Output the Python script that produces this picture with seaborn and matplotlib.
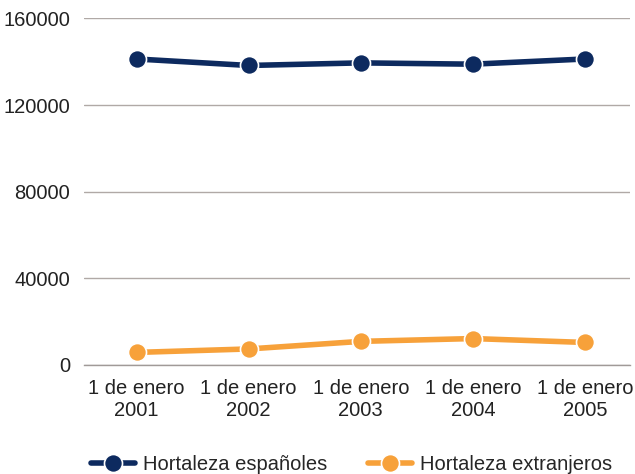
import pandas as pd
import numpy as np
import matplotlib
matplotlib.use("Agg")
import matplotlib.pyplot as plt
import seaborn as sns

# values
years = ["2001", "2002", "2003", "2004", "2005"]
espanoles = [141300, 138300, 139500, 138900, 141300]
extranjeros = [5800, 7400, 10900, 12200, 10400]
series_names = ["Hortaleza españoles", "Hortaleza extranjeros"]
colors = ["#0d2a5f", "#f7a13a"]

sns.set_style("white")
plt.rcParams['font.family'] = ['Liberation Sans Narrow', 'Liberation Sans', 'DejaVu Sans']

pos = np.arange(len(years))
df = pd.concat([
    pd.DataFrame({'x': pos, 'value': espanoles, 'serie': series_names[0]}),
    pd.DataFrame({'x': pos, 'value': extranjeros, 'serie': series_names[1]}),
])

fig = plt.figure(figsize=(6.35, 4.74), dpi=100)
ax = fig.add_axes([0.132, 0.23, 0.86, 0.731])

sns.lineplot(data=df, x='x', y='value', hue='serie', palette=colors, ax=ax,
             marker='o', markersize=13, markeredgecolor='white', markeredgewidth=1.2,
             linewidth=4, legend=True)

ax.set_ylim(0, 160000)
ax.set_xlim(-0.47, 4.4)
ax.set_yticks([0, 40000, 80000, 120000, 160000])
ax.set_yticklabels(['0', '40000', '80000', '120000', '160000'], fontsize=14.5, color='#222222')
ax.yaxis.grid(True, color='#b0a9a6', linewidth=1)
ax.set_axisbelow(True)

ax.set_xticks(pos)
ax.set_xticklabels(['1 de enero\n' + y for y in years], fontsize=14.5, color='#222222',
                   linespacing=1.2)
ax.set_xticks(pos[:-1] + 0.5, minor=True)
ax.tick_params(axis='x', which='major', length=0, pad=10)
ax.tick_params(axis='x', which='minor', length=6, color='#a09a98', width=1)
ax.tick_params(axis='y', length=0, pad=10)
ax.set_xlabel('')
ax.set_ylabel('')

for s in ['top', 'right', 'left']:
    ax.spines[s].set_visible(False)
ax.spines['bottom'].set_color('#a09a98')
ax.spines['bottom'].set_linewidth(1)

handles, labels = ax.get_legend_handles_labels()
ax.legend(handles, labels, loc='lower center', bbox_to_anchor=(0.49, -0.338),
          ncol=2, frameon=False, fontsize=14.5, columnspacing=2.0,
          handlelength=2.2, handletextpad=0.4, borderaxespad=0)

fig.savefig('out.png', dpi=100)
